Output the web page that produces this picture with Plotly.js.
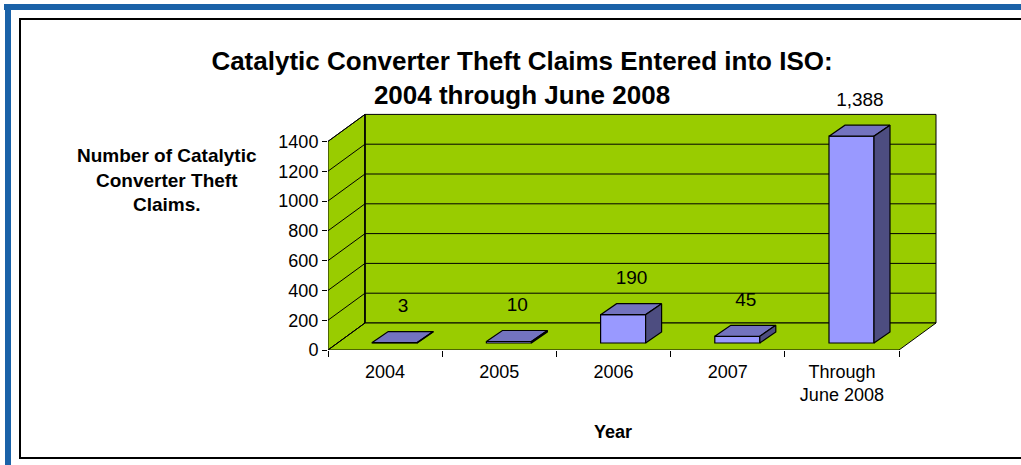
<!DOCTYPE html>
<html>
<head>
<meta charset="utf-8">
<script src="https://cdn.plot.ly/plotly-3.0.1.min.js"></script>
<style>
  html, body { margin: 0; padding: 0; background: #ffffff; }
  #chart { width: 1021px; height: 465px; }
</style>
</head>
<body>
<div id="chart"></div>
<script>
// ---------------- data ----------------
const categories = ['2004', '2005', '2006', '2007', 'Through<br>June 2008'];
const claims = [3, 10, 190, 45, 1388];
const claimLabels = ['3', '10', '190', '45', '1,388'];
const yTicks = [0, 200, 400, 600, 800, 1000, 1200, 1400];

// ---------------- geometry (pixels) ----------------
const W = 1021, H = 465;
const L = 328, R = 81, T = 90, B = 115;
const PW = W - L - R, PH = H - T - B;
const BOTTOM = H - B;               // pixel row of value 0 on the front plane
const XPX = 114.2;                  // pixels per category
const VPX = 0.149;                  // pixels per claim
const xMax = PW / XPX;
const yMax = PH / VPX;
const dx = p => p / XPX;            // pixel -> x units
const dv = p => p / VPX;            // pixel -> value units
const px2x = p => (p - L) / PW;     // pixel -> paper x
const py2y = p => (BOTTOM - p) / PH;// pixel -> paper y

const nCat = categories.length;
const wallTop = yTicks[yTicks.length - 1];
const wallDX = dx(37), wallDV = dv(27);
const barFrontDX = dx(9.6), barFrontDV = dv(7);
const barW = dx(45), barDX = dx(16), barDV = dv(11);

const GREEN = '#99CC00', FRONT = '#9999FF', TOP = '#7373BF', SIDE = '#4D4D80';
const FONT = 'Liberation Sans, Arial, Helvetica, sans-serif';

// ---------------- walls & gridlines (decoration) ----------------
const P = (pts) => 'M ' + pts.map(p => p[0] + ',' + p[1]).join(' L ') + ' Z';
const shapes = [];
// left side wall
shapes.push({type: 'path', xref: 'x', yref: 'y', layer: 'below',
  path: P([[0, 0], [0, wallTop], [wallDX, wallTop + wallDV], [wallDX, wallDV]]),
  fillcolor: GREEN, line: {color: 'black', width: 1}});
// back wall
shapes.push({type: 'path', xref: 'x', yref: 'y', layer: 'below',
  path: P([[wallDX, wallDV], [wallDX, wallTop + wallDV], [nCat + wallDX, wallTop + wallDV], [nCat + wallDX, wallDV]]),
  fillcolor: GREEN, line: {color: 'black', width: 1}});
// floor
shapes.push({type: 'path', xref: 'x', yref: 'y', layer: 'below',
  path: P([[0, 0], [nCat, 0], [nCat + wallDX, wallDV], [wallDX, wallDV]]),
  fillcolor: GREEN, line: {color: 'black', width: 1}});
// gridlines on back and side walls
yTicks.forEach(v => {
  if (v > 0 && v < wallTop) {
    shapes.push({type: 'line', xref: 'x', yref: 'y', layer: 'below',
      x0: wallDX, x1: nCat + wallDX, y0: v + wallDV, y1: v + wallDV,
      line: {color: 'black', width: 1}});
  }
  shapes.push({type: 'line', xref: 'x', yref: 'y', layer: 'below',
    x0: 0, x1: wallDX, y0: v, y1: v + wallDV, line: {color: 'black', width: 1}});
});
// back corner edge, a little stronger
shapes.push({type: 'line', xref: 'x', yref: 'y', layer: 'below',
  x0: wallDX, x1: wallDX, y0: wallDV, y1: wallTop + wallDV, line: {color: 'black', width: 1.5}});
// frame: blue band and black inner border
shapes.push({type: 'rect', xref: 'paper', yref: 'paper', layer: 'below',
  x0: px2x(4), x1: px2x(W + 5), y0: py2y(4), y1: py2y(10), fillcolor: '#1A62A8', line: {width: 0}});
shapes.push({type: 'rect', xref: 'paper', yref: 'paper', layer: 'below',
  x0: px2x(5), x1: px2x(11), y0: py2y(4), y1: py2y(H + 5), fillcolor: '#1A62A8', line: {width: 0}});
shapes.push({type: 'rect', xref: 'paper', yref: 'paper', layer: 'below',
  x0: px2x(20), x1: px2x(W + 10), y0: py2y(19), y1: py2y(458), fillcolor: 'rgba(0,0,0,0)',
  line: {color: 'black', width: 2}});

// ---------------- bars ----------------
const xFront = categories.map((c, i) => i + 0.5 + barFrontDX);
const traces = [];
traces.push({
  type: 'bar', x: xFront, y: claims, base: claims.map(() => barFrontDV), width: barW,
  marker: {color: FRONT, line: {color: 'black', width: 1.2}},
  hoverinfo: 'skip', showlegend: false
});
claims.forEach((v, i) => {
  const xl = xFront[i] - barW / 2, xr = xFront[i] + barW / 2;
  const y0 = barFrontDV, y1 = barFrontDV + v;
  // top face
  traces.push({type: 'scatter', mode: 'lines', fill: 'toself', fillcolor: TOP,
    x: [xl, xr, xr + barDX, xl + barDX, xl],
    y: [y1, y1, y1 + barDV, y1 + barDV, y1],
    line: {color: 'black', width: 1.2}, hoverinfo: 'skip', showlegend: false});
  // side face
  traces.push({type: 'scatter', mode: 'lines', fill: 'toself', fillcolor: SIDE,
    x: [xr, xr, xr + barDX, xr + barDX, xr],
    y: [y0, y1, y1 + barDV, y0 + barDV, y0],
    line: {color: 'black', width: 1.2}, hoverinfo: 'skip', showlegend: false});
});
// data labels
traces.push({type: 'scatter', mode: 'text',
  x: categories.map((c, i) => i + 0.5 + dx(18)),
  y: claims.map(v => v + dv(42)),
  text: claimLabels, textposition: 'middle center',
  textfont: {family: FONT, size: 19, color: 'black'},
  cliponaxis: false, hoverinfo: 'skip', showlegend: false});

// ---------------- layout ----------------
const layout = {
  width: W, height: H,
  margin: {l: L, r: R, t: T, b: B, pad: 0},
  paper_bgcolor: 'white', plot_bgcolor: 'white',
  showlegend: false,
  title: {
    text: '<b>Catalytic Converter Theft Claims Entered into ISO:<br>2004 through June 2008</b>',
    font: {family: FONT, size: 26, color: 'black'},
    xref: 'container', yref: 'container',
    x: 522 / W, xanchor: 'center', y: 1 - 70 / H, yanchor: 'top'
  },
  xaxis: {
    type: 'linear', range: [0, xMax], automargin: false,
    showgrid: false, zeroline: false, showline: false,
    tickvals: categories.map((c, i) => i + 0.5), ticktext: categories,
    ticks: '', ticklabelstandoff: 9,
    tickfont: {family: FONT, size: 18, color: 'black'},
    minor: {tick0: 0, dtick: 1, ticks: 'outside', ticklen: 6, tickcolor: 'black', tickwidth: 1, showgrid: false},
    fixedrange: true
  },
  yaxis: {
    range: [0, yMax], automargin: false,
    showgrid: false, zeroline: false, showline: false,
    tickvals: yTicks, ticktext: yTicks.map(String),
    ticks: 'outside', ticklen: 5, tickcolor: 'black', tickwidth: 1,
    tickfont: {family: FONT, size: 18, color: 'black'},
    fixedrange: true
  },
  shapes: shapes,
  annotations: [
    {xref: 'paper', yref: 'paper', x: px2x(167), y: py2y(180), xanchor: 'center', yanchor: 'middle',
     showarrow: false, align: 'center',
     text: '<b>Number of Catalytic<br>Converter Theft<br>Claims.</b>',
     font: {family: FONT, size: 19, color: 'black'}},
    {xref: 'paper', yref: 'paper', x: px2x(613), y: py2y(432), xanchor: 'center', yanchor: 'middle',
     showarrow: false, text: '<b>Year</b>',
     font: {family: FONT, size: 18, color: 'black'}}
  ]
};

Plotly.newPlot('chart', traces, layout, {displayModeBar: false, staticPlot: true});
</script>
</body>
</html>
